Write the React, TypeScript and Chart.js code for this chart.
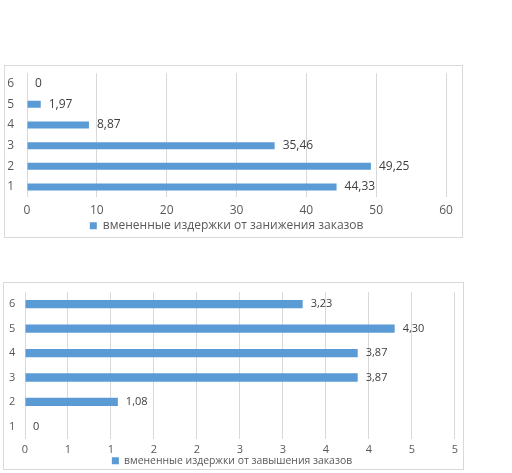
import { useEffect, useRef } from "react";
import { Chart, registerables } from "chart.js";

Chart.register(...registerables);

const categories = ["1", "2", "3", "4", "5", "6"];
const underValues = [44.33, 49.25, 35.46, 8.87, 1.97, 0];
const overValues = [0, 1.08, 3.87, 3.87, 4.3, 3.23];
const underLabel = "вмененные издержки от занижения заказов";
const overLabel = "вмененные издержки от завышения заказов";
const underAxis = [0, 60, 10];
const overAxis = [0, 5, 0.5];

const FONT = "'Open Sans', 'DejaVu Sans', sans-serif";
const BAR = "#5b9bd5";
const TEXT = "#595959";
const GRID = "#d9d9d9";

const fmt = (v: number) => (v === 0 ? "0" : v.toFixed(2).replace(".", ","));

type Opts = {
  values: number[];
  label: string;
  axis: number[];
  tickFmt: (v: number) => string;
  tickSize: number;
  labelSize: number;
  legendSize: number;
  legendPad: number;
  pad: { left: number; top: number; right: number; bottom: number };
  yWidth: number;
  xHeight: number;
  xPad: number;
  barPct: number;
  offset: number;
};

function makeConfig(o: Opts): any {
  const valueLabels = {
    id: "valueLabels",
    afterDatasetsDraw(chart: any) {
      const ctx = chart.ctx;
      const meta = chart.getDatasetMeta(0);
      const data = chart.data.datasets[0].data as number[];
      ctx.save();
      ctx.font = `${o.labelSize}px ${FONT}`;
      ctx.fillStyle = "#404040";
      ctx.textBaseline = "middle";
      ctx.textAlign = "left";
      meta.data.forEach((el: any, i: number) => {
        ctx.fillText(fmt(data[i]), el.x + o.offset, el.y);
      });
      ctx.restore();
    },
  };
  return {
    type: "bar",
    data: {
      labels: categories,
      datasets: [
        {
          label: o.label,
          data: o.values,
          backgroundColor: BAR,
          borderWidth: 0,
          categoryPercentage: 1,
          barPercentage: o.barPct,
        },
      ],
    },
    options: {
      indexAxis: "y",
      animation: false,
      responsive: true,
      maintainAspectRatio: false,
      layout: { padding: o.pad },
      plugins: {
        tooltip: { enabled: false },
        legend: {
          position: "bottom",
          labels: {
            boxWidth: 7,
            boxHeight: 7,
            padding: o.legendPad,
            color: TEXT,
            font: { family: FONT, size: o.legendSize },
          },
        },
      },
      scales: {
        x: {
          min: o.axis[0],
          max: o.axis[1],
          ticks: {
            stepSize: o.axis[2],
            color: TEXT,
            padding: o.xPad,
            font: { family: FONT, size: o.tickSize },
            callback: (v: any) => o.tickFmt(Number(v)),
            maxRotation: 0,
            autoSkip: false,
          },
          grid: { color: GRID, lineWidth: 1, drawTicks: false },
          border: { display: false },
          afterFit: (s: any) => {
            s.height = o.xHeight;
          },
        },
        y: {
          reverse: true,
          ticks: {
            color: TEXT,
            padding: 0,
            crossAlign: "far",
            font: { family: FONT, size: o.tickSize },
          },
          grid: { display: false, drawTicks: false },
          border: { display: false },
          afterFit: (s: any) => {
            s.width = o.yWidth;
          },
        },
      },
    },
    plugins: [valueLabels],
  };
}

function BarChart({ opts }: { opts: Opts }) {
  const ref = useRef<HTMLCanvasElement | null>(null);
  useEffect(() => {
    if (!ref.current) return;
    const chart = new Chart(ref.current, makeConfig(opts));
    return () => chart.destroy();
  }, []);
  return <canvas ref={ref} />;
}

const opts1: Opts = {
  values: underValues,
  label: underLabel,
  axis: underAxis,
  tickFmt: (v) => String(Math.round(v)),
  tickSize: 12,
  labelSize: 12,
  legendSize: 12,
  legendPad: 4,
  pad: { left: 2.3, top: 6.6, right: 16, bottom: 4.3 },
  yWidth: 19.7,
  xHeight: 18.3,
  xPad: 6,
  barPct: 0.34,
  offset: 8,
};

const opts2: Opts = {
  values: overValues,
  label: overLabel,
  axis: overAxis,
  tickFmt: (v) => String(Math.round(v)),
  tickSize: 11,
  labelSize: 11,
  legendSize: 10.4,
  legendPad: 0,
  pad: { left: 5, top: 9, right: 8, bottom: 7 },
  yWidth: 16,
  xHeight: 17,
  xPad: 5,
  barPct: 0.34,
  offset: 8,
};

export default function App() {
  return (
    <div
      style={{
        position: "absolute",
        left: 0,
        top: 0,
        width: 512,
        height: 473,
        overflow: "hidden",
        background: "#fff",
      }}
    >
      <div
        style={{
          position: "absolute",
          left: 4,
          top: 65,
          width: 459,
          height: 173,
          border: `1px solid ${GRID}`,
          boxSizing: "border-box",
        }}
      />
      <div style={{ position: "absolute", left: 5, top: 66, width: 457, height: 180 }}>
        <BarChart opts={opts1} />
      </div>
      <div
        style={{
          position: "absolute",
          left: 3,
          top: 282,
          width: 461,
          height: 188,
          border: `1px solid ${GRID}`,
          boxSizing: "border-box",
        }}
      />
      <div style={{ position: "absolute", left: 4, top: 283, width: 459, height: 200 }}>
        <BarChart opts={opts2} />
      </div>
    </div>
  );
}
